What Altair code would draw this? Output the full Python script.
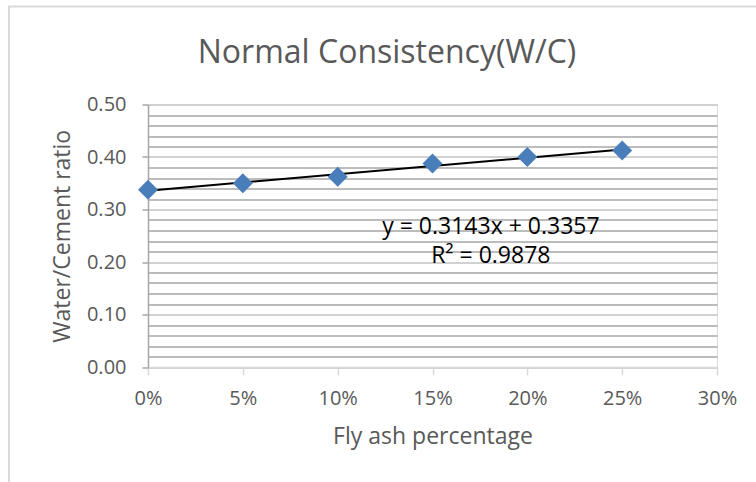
import altair as alt
import numpy as np
import pandas as pd

# ---- data ----
fly_ash = [0.00, 0.05, 0.10, 0.15, 0.20, 0.25]
wc_ratio = [0.3375, 0.350, 0.3625, 0.3875, 0.400, 0.4125]
x_ticks = [0.0, 0.05, 0.10, 0.15, 0.20, 0.25, 0.30]
y_major = [0.0, 0.1, 0.2, 0.3, 0.4, 0.5]
y_minor = [round(0.02 * i, 2) for i in range(26)]
label_pos_x = [0.1808, 0.1808]
label_pos_y = [0.2665, 0.2115]
chart_title = ["Normal Consistency(W/C)"]

df = pd.DataFrame({"x": fly_ash, "y": wc_ratio})

slope, intercept = np.polyfit(fly_ash, wc_ratio, 1)
r2 = np.corrcoef(fly_ash, wc_ratio)[0, 1] ** 2
labels = pd.DataFrame({
    "x": label_pos_x,
    "y": label_pos_y,
    "t": [f"y = {slope:.4f}x + {intercept:.4f}", f"R\u00b2 = {r2:.4f}"],
})

FONT = "Open Sans"
GREY = "#595959"

xscale = alt.Scale(domain=[0, 0.3], nice=False, zero=False)
yscale = alt.Scale(domain=[0, 0.5], nice=False)

x_axis = alt.Axis(values=x_ticks, format=".0%", grid=False, domainColor="#d9d9d9",
                  domainWidth=1.5, tickColor="#d9d9d9", tickWidth=1.5, tickSize=8,
                  labelPadding=13, labelFontSize=20,
                  labelColor=GREY, labelFont=FONT, labelFlush=False, labelOverlap=False,
                  title="Fly ash percentage",
                  titleFontSize=23, titleFontWeight="normal", titleColor=GREY,
                  titleFont=FONT, titlePadding=17)

minor_layer = alt.Chart(df).mark_point(opacity=0).encode(
    x=alt.X("x:Q", scale=xscale, axis=x_axis),
    y=alt.Y("y:Q", scale=yscale, axis=alt.Axis(values=y_minor, grid=True, gridColor="#a6a6a6",
                                               gridWidth=1.5, labels=False, ticks=False,
                                               domain=False, title=None, orient="left",
                                               zindex=0)),
)

major_layer = alt.Chart(df).mark_point(opacity=0).encode(
    x=alt.X("x:Q", scale=xscale),
    y=alt.Y("y:Q", scale=yscale, axis=alt.Axis(values=y_major, format=".2f", grid=True,
                                               gridColor="#d9d9d9", gridWidth=1.5,
                                               domainColor="#a6a6a6", domainWidth=1.5,
                                               tickColor="#a6a6a6", tickWidth=1.5, tickSize=6,
                                               labelPadding=16, labelFontSize=20,
                                               labelColor=GREY, labelFont=FONT,
                                               labelFlush=False, labelOverlap=False,
                                               title="Water/Cement ratio", titleFontSize=23,
                                               titleFontWeight="normal", titleColor=GREY,
                                               titleFont=FONT, titlePadding=12,
                                               orient="left", zindex=0)),
)

trend = alt.Chart(df).transform_regression("x", "y", extent=[0, 0.25]).mark_line(
    color="black", strokeWidth=2
).encode(x=alt.X("x:Q", scale=xscale), y=alt.Y("y:Q", scale=yscale, axis=None))

points = alt.Chart(df).mark_point(shape="diamond", filled=True, size=400, opacity=1,
                                  color="#4a7ebb").encode(
    x=alt.X("x:Q", scale=xscale), y=alt.Y("y:Q", scale=yscale, axis=None))

text = alt.Chart(labels).mark_text(font=FONT, fontSize=23, color="black",
                                   align="center", baseline="middle").encode(
    x=alt.X("x:Q", scale=xscale), y=alt.Y("y:Q", scale=yscale, axis=None), text="t:N")

title = alt.Chart(pd.DataFrame({"t": chart_title})).mark_text(
    font=FONT, fontSize=32, color=GREY, align="center", baseline="middle"
).encode(x=alt.value(239), y=alt.value(-52), text="t:N")

frame = alt.Chart(pd.DataFrame({"a": [0]})).mark_rect(
    fill=None, stroke="#d9d9d9", strokeWidth=2
).encode(x=alt.value(-139), y=alt.value(-98), x2=alt.value(640), y2=alt.value(400))

chart = alt.layer(frame, minor_layer, major_layer, trend, points, text, title).resolve_axis(
    y="independent"
).properties(
    width=569, height=262.5,
    autosize=alt.AutoSizeParams(type="none"),
    padding={"left": 148, "top": 104.5, "right": 39, "bottom": 115},
).configure_view(stroke=None).configure(background="white")

chart.save("out.html", embed_options={"renderer": "svg", "actions": False})
